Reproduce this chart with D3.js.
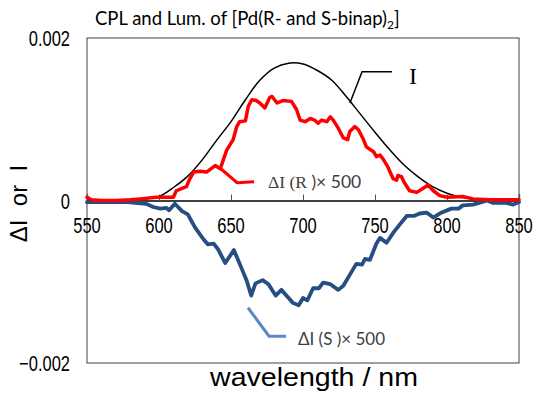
<!DOCTYPE html>
<html><head><meta charset="utf-8">
<script src="https://cdn.jsdelivr.net/npm/d3@7"></script>
<style>
html,body{margin:0;padding:0;background:#fff;}
svg{display:block;}
</style></head>
<body>
<script>
// ---- data ----
const xTicks = [550, 600, 650, 700, 750, 800, 850];
const yTickLabels = ["0.002", "0", "-0.002"];
const yTickValues = [0.002, 0, -0.002];

const lumNm  = [550,560,570,580,590,600,610,620,630,640,650,660,670,680,690,700,710,720,730,740,750,760,770,780,790,800,810,820,830,840,850];
const lumVal = [0,0,0,0.00001,0.00002,0.00005,0.00016,0.00030,0.00050,0.00074,0.00097,0.00124,0.00148,0.00163,0.00169,0.00168,0.00160,0.00148,0.00128,0.00106,0.00084,0.00063,0.00044,0.00029,0.00017,0.00009,0.00004,0.000015,0.000005,0,0];

const redNm  = [550,553,560,570,580,587,598,610,612,619,621.5,624,628.5,633,639,642.5,647,651.5,654,656,660,662,664.5,667.5,670,673.5,677,678.5,682,686,692,695.5,698,701.5,705,708,710.5,713,716.5,719,721,724.5,728,731,732.5,736,738.5,742,744,749,751,753.5,756,759,762.5,765,766,768.5,770,774,779,783.5,787,790.5,795,800,811,818,830,850];
const redVal = [0.04,0.01,0,0,0.01,0.02,0.04,0.04,0.12,0.17,0.27,0.35,0.36,0.35,0.43,0.39,0.62,0.75,0.91,0.97,0.98,1.16,1.24,1.23,1.20,1.14,1.27,1.28,1.20,1.23,1.22,1.12,0.99,0.97,1.01,0.99,0.95,0.99,0.97,1.03,0.99,0.89,0.77,0.75,0.85,0.91,0.87,0.75,0.66,0.60,0.54,0.56,0.50,0.41,0.27,0.25,0.31,0.29,0.23,0.12,0.10,0.15,0.19,0.12,0.06,0.04,0.05,0.02,0.01,0.01].map(v => v * 1e-3);

const blueNm  = [550,578,591,596,601,605,607,611,616,620,625,631,634,638,641,646,652,657,661,664,667,672,676,681,685,690,693,697,700,703,707,711,714,719,724.5,728,733,737,741,743,746.5,751,753.5,758,763,767,772,777,781,786,790.5,796,803,808,811,818,824,828,832,841,846,850];
const blueVal = [-0.02,-0.02,-0.04,-0.08,-0.10,-0.09,-0.12,-0.04,-0.13,-0.17,-0.33,-0.48,-0.54,-0.53,-0.60,-0.77,-0.61,-0.82,-0.99,-1.17,-1.02,-0.98,-1.03,-1.17,-1.10,-1.20,-1.26,-1.29,-1.20,-1.23,-1.08,-1.08,-1.01,-1.03,-1.10,-1.05,-0.90,-0.78,-0.79,-0.72,-0.73,-0.53,-0.46,-0.52,-0.39,-0.30,-0.19,-0.19,-0.16,-0.15,-0.21,-0.15,-0.10,-0.10,-0.06,-0.05,-0.02,0.00,-0.03,-0.03,-0.05,-0.02].map(v => v * 1e-3);

// ---- drawing ----
const W = 538, H = 394;
const svg = d3.select("body").append("svg").attr("width", W).attr("height", H);

const x = d3.scaleLinear().domain([550, 850]).range([87, 519]);
const y = d3.scaleLinear().domain([-0.002, 0.002]).range([363, 38]);

// frame
svg.append("rect").attr("x", x(550)).attr("y", y(0.002))
  .attr("width", x(850) - x(550)).attr("height", y(-0.002) - y(0.002))
  .attr("fill", "none").attr("stroke", "#404040").attr("stroke-width", 1);

// x axis at zero with inward ticks
const xAxis = d3.axisTop(x).tickValues(xTicks).tickSize(6).tickFormat("");
const gx = svg.append("g").attr("transform", `translate(0,${y(0)})`).call(xAxis);
gx.select(".domain").attr("stroke", "#000").attr("stroke-width", 1.3);
gx.selectAll(".tick line").attr("stroke", "#555");

// x tick labels (below zero line)
svg.append("g").selectAll("text").data(xTicks).join("text")
  .attr("transform", d => `translate(${x(d)},${y(0) + 32}) scale(1,1.35)`)
  .attr("text-anchor", "middle")
  .attr("font-family", "Liberation Sans, Arial, sans-serif")
  .attr("font-size", 16.5).attr("fill", "#000")
  .text(d => d);

// y tick labels
svg.append("g").selectAll("text").data(yTickValues).join("text")
  .attr("transform", d => `translate(70,${y(d) + 8}) scale(1,1.35)`)
  .attr("text-anchor", "end")
  .attr("font-family", "Liberation Sans, Arial, sans-serif")
  .attr("font-size", 16.5).attr("fill", "#000")
  .text((d, i) => yTickLabels[i].replace("-", "\u2212"));

// lines
const line = (nm, val) => d3.line().x((d, i) => x(nm[i])).y((d, i) => y(val[i]));

svg.append("path").datum(lumVal)
  .attr("d", line(lumNm, lumVal).curve(d3.curveCatmullRom)(lumVal))
  .attr("fill", "none").attr("stroke", "#000").attr("stroke-width", 1.5);

svg.append("path").datum(blueVal)
  .attr("d", line(blueNm, blueVal)(blueVal))
  .attr("fill", "none").attr("stroke", "#254e82").attr("stroke-width", 3.8)
  .attr("stroke-linejoin", "round").attr("stroke-linecap", "round");

svg.append("path").datum(redVal)
  .attr("d", line(redNm, redVal)(redVal))
  .attr("fill", "none").attr("stroke", "#ff0000").attr("stroke-width", 3.5)
  .attr("stroke-linejoin", "round").attr("stroke-linecap", "round");

// annotations (leader lines positioned in data units)
const lead = d3.line().x(d => x(d[0])).y(d => y(d[1]));
svg.append("path").attr("d", lead([[732.6, 0.00120], [741, 0.001585], [761.8, 0.001585]]))
  .attr("fill", "none").attr("stroke", "#000").attr("stroke-width", 1.5);
svg.append("path").attr("d", lead([[642.4, 0.00040], [654.2, 0.00022], [666, 0.00023]]))
  .attr("fill", "none").attr("stroke", "#ff0000").attr("stroke-width", 3);
svg.append("path").attr("d", lead([[661.8, -0.00132], [676.4, -0.00167], [688.2, -0.00167]]))
  .attr("fill", "none").attr("stroke", "#5a8ac6").attr("stroke-width", 3);

svg.append("text").attr("x", x(773.6)).attr("y", y(0.001434))
  .attr("font-family", "Liberation Serif, serif").attr("font-size", 24).attr("fill", "#000")
  .text("I");

const rLab = svg.append("text").attr("x", x(675.7)).attr("y", y(0.00016))
  .attr("font-size", 17.5).attr("fill", "#404040");
rLab.append("tspan").attr("font-family", "Liberation Serif, serif").text("\u0394I (R");
rLab.append("tspan").attr("font-family", "Lato, sans-serif").text(" )\u00d7 500");

svg.append("text").attr("x", x(696.5)).attr("y", y(-0.00178))
  .attr("font-family", "Lato, sans-serif").attr("font-size", 17).attr("fill", "#404040")
  .text("\u0394I (S )\u00d7 500");

// title
const t = svg.append("text").attr("x", 95).attr("y", 25)
  .attr("font-family", "Lato, sans-serif").attr("font-size", 18.5).attr("fill", "#000");
t.append("tspan").text("CPL and Lum. of [Pd(R- and S-binap)");
t.append("tspan").attr("font-size", 12).attr("dy", 4).text("2");
t.append("tspan").attr("dy", -4).text("]");

// axis titles
svg.append("text").attr("x", 314).attr("y", 386)
  .attr("text-anchor", "middle")
  .attr("font-family", "Liberation Sans, Arial, sans-serif").attr("font-size", 26).attr("fill", "#000")
  .attr("textLength", 208).attr("lengthAdjust", "spacingAndGlyphs")
  .text("wavelength / nm");

svg.append("text").attr("transform", `translate(27,${y(0) + 3}) rotate(-90)`)
  .attr("text-anchor", "middle").attr("xml:space", "preserve")
  .attr("font-family", "Liberation Sans, Arial, sans-serif").attr("font-size", 24).attr("fill", "#000")
  .text("\u0394I  or  I");
</script>
</body></html>
